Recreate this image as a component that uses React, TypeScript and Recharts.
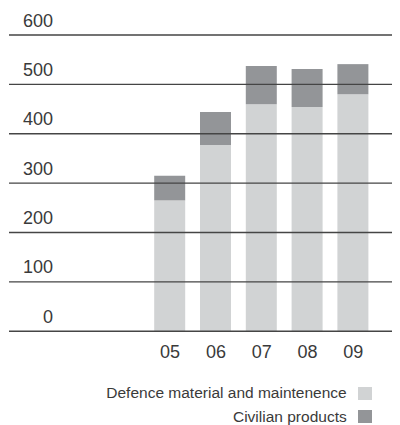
import React from 'react';
import { BarChart, Bar, XAxis, YAxis, ReferenceLine, Legend } from 'recharts';

// Sales by year (two-digit year labels), split by business area
const years = ['05', '06', '07', '08', '09'];
const defenceValues = [265, 377, 460, 454, 480];
const civilianValues = [50, 67, 77, 77, 61];
const yTicks = [0, 100, 200, 300, 400, 500, 600];

const seriesNames = {
  defence: 'Defence material and maintenence',
  civilian: 'Civilian products',
};
const legendOrder = [seriesNames.defence, seriesNames.civilian];

const LIGHT = '#d1d3d4';
const DARK = '#939598';
const FONT = '"Liberation Sans", Arial, Helvetica, sans-serif';

const data = years.map((year, i) => ({
  year,
  defence: defenceValues[i],
  civilian: civilianValues[i],
}));

const YTick = (props: any) => {
  const { y, payload } = props;
  return (
    <text x={45} y={y - 8.5} textAnchor="end" fontSize={18} fill="#3a3a3a" fontFamily={FONT}>
      {payload.value}
    </text>
  );
};

const XTick = (props: any) => {
  const { x, y, payload } = props;
  return (
    <text x={x} y={y + 19} textAnchor="middle" fontSize={18} fill="#3a3a3a" fontFamily={FONT}>
      {payload.value}
    </text>
  );
};

const LegendContent = (props: any) => {
  const payload = [...(props.payload || [])].sort(
    (a: any, b: any) => legendOrder.indexOf(a.value) - legendOrder.indexOf(b.value)
  );
  return (
    <div style={{ fontFamily: FONT, fontSize: 15.5, color: '#3a3a3a' }}>
      {payload.map((entry: any) => (
        <div
          key={entry.value}
          style={{
            display: 'flex',
            justifyContent: 'flex-end',
            alignItems: 'center',
            height: 23.5,
            paddingRight: 28.5,
          }}
        >
          <span style={{ whiteSpace: 'nowrap' }}>{entry.value}</span>
          <span
            style={{
              display: 'inline-block',
              width: 13.5,
              height: 13,
              marginLeft: 11.3,
              background: entry.color,
            }}
          />
        </div>
      ))}
    </div>
  );
};

export default function App() {
  return (
    <div style={{ width: 392, height: 417, fontFamily: FONT }}>
      <BarChart
        width={392}
        height={417}
        data={data}
        margin={{ top: 27, right: 0, left: 0, bottom: 63.7 }}
      >
        <XAxis
          dataKey="year"
          axisLine={false}
          tickLine={false}
          height={30}
          padding={{ left: 138.2, right: 23.8 }}
          tick={<XTick />}
          interval={0}
        />
        <YAxis
          domain={[0, 600]}
          ticks={yTicks}
          width={1}
          axisLine={false}
          tickLine={false}
          tick={<YTick />}
          interval={0}
        />
        <Bar
          dataKey="defence"
          name={seriesNames.defence}
          stackId="sales"
          fill={LIGHT}
          barSize={31}
          isAnimationActive={false}
        />
        <Bar
          dataKey="civilian"
          name={seriesNames.civilian}
          stackId="sales"
          fill={DARK}
          barSize={31}
          isAnimationActive={false}
        />
        {yTicks.map((t) => (
          <ReferenceLine key={t} y={t} stroke="#454545" strokeWidth={1.4} />
        ))}
        <Legend
          layout="vertical"
          verticalAlign="middle"
          align="center"
          wrapperStyle={{ top: 373.25, left: 0, width: 392 }}
          content={<LegendContent />}
        />
      </BarChart>
    </div>
  );
}
